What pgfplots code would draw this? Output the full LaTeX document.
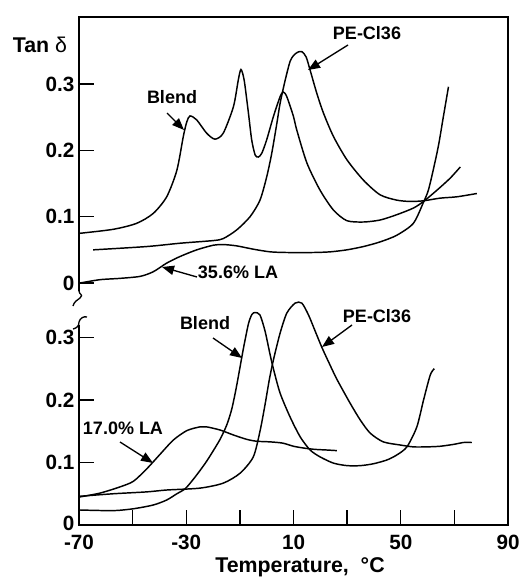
\documentclass[border=0pt]{standalone}
\usepackage{fontspec}
\setmainfont{Liberation Sans}
\usepackage{pgfplots}
\pgfplotsset{compat=1.18}
\usetikzlibrary{arrows.meta}

\pgfplotsset{panel/.style={
  scale only axis, width=321.75pt,
  xmin=-70, xmax=90,
  axis line style={draw=none},
  tick style={black, line width=1.1pt},
  major tick length=11pt,
  tick align=inside,
  ytick pos=left, xtick pos=bottom,
  ticklabel style={font=\fontsize{15.5}{17}\selectfont\bfseries},
  x tick label style={yshift=-4pt},
  clip=false,
},
curve/.style={black, line width=1.1pt, mark=none, smooth, tension=0.45}}

\begin{document}
\begin{tikzpicture}[
  px/.style={x=0.75pt, y=-0.75pt},
  lbl/.style={font=\fontsize{13.5}{15}\selectfont\bfseries, inner sep=0pt},
  arr/.style={line width=1pt, -{Triangle[length=9pt,width=7pt]}}]

\path[px] (0,0) rectangle (521,581);

% lower panel: 17.0% LA
\begin{axis}[panel,
  at={(59.25pt,-393.75pt)}, anchor=south west,
  height=173.4375pt, ymin=0, ymax=0.37,
  xtick={-70,-50,...,90}, xticklabels={-70,,-30,,10,,50,,90},
  ytick={0,0.1,0.2,0.3}, yticklabels={\raisebox{3pt}{0},0.1,0.2,0.3},
]
% Blend
\addplot[curve] coordinates {
 (-69.6,0.024) (-57.2,0.023) (-49.7,0.026) (-42.3,0.032) (-37.3,0.040)
 (-33.5,0.050) (-30.4,0.058) (-27.4,0.073) (-24.9,0.087) (-22.4,0.102)
 (-19.9,0.119) (-17.4,0.137) (-14.9,0.160) (-13.0,0.186) (-11.2,0.223)
 (-8.7,0.282) (-6.8,0.322) (-5.5,0.337) (-4.3,0.340) (-2.5,0.336)
 (-0.6,0.310) (1.3,0.272) (2.5,0.250) (5.0,0.211) (8.7,0.173)
 (12.5,0.141) (16.2,0.120) (19.9,0.109) (24.9,0.099) (30.0,0.095)
 (35.0,0.095) (39.8,0.098) (44.8,0.104) (48.5,0.112) (52.3,0.125)
 (56.0,0.157) (58.5,0.200) (61.0,0.240) (62.5,0.250)
};
% PE-Cl36
\addplot[curve] coordinates {
 (-69.6,0.046) (-57.2,0.050) (-44.7,0.053) (-37.3,0.056) (-24.9,0.059)
 (-16.2,0.067) (-9.9,0.083) (-5.0,0.109) (-2.5,0.150) (-0.6,0.193)
 (1.0,0.233) (2.5,0.264) (5.0,0.307) (7.5,0.339) (10.6,0.355)
 (13.1,0.355) (15.6,0.336) (18.1,0.310) (20.6,0.284) (23.4,0.258)
 (26.2,0.233) (31.1,0.195) (34.9,0.168) (38.6,0.147) (43.5,0.133)
 (49.8,0.128) (54.7,0.125) (59.7,0.125) (64.7,0.126) (69.7,0.129)
 (73.4,0.132) (76.5,0.132)
};
% 17.0% LA
\addplot[curve] coordinates {
 (-69.6,0.045) (-62.2,0.051) (-54.7,0.061) (-49.7,0.070) (-44.7,0.090)
 (-39.8,0.113) (-34.8,0.136) (-29.8,0.151) (-24.9,0.157) (-22.4,0.157)
 (-17.4,0.152) (-12.4,0.144) (-7.4,0.137) (-3.7,0.134) (1.3,0.133)
 (6.0,0.131) (10.0,0.126) (14.0,0.123) (18.0,0.121) (22.4,0.120)
 (26.2,0.119)
};
\end{axis}

% upper panel: 35.6% LA
\begin{axis}[panel,
  at={(59.25pt,-220.3125pt)}, anchor=south west,
  height=207.5625pt, ymin=-0.016214, ymax=0.401207,
  xtick=\empty,
  ytick={0,0.1,0.2,0.3}, yticklabels={0,0.1,0.2,0.3},
]
% Blend
\addplot[curve] coordinates {
 (-69.6,0.075) (-57.2,0.081) (-48.5,0.090) (-42.3,0.105) (-37.3,0.130)
 (-33.5,0.170) (-31.1,0.221) (-29.8,0.243) (-28.6,0.252) (-26.1,0.246)
 (-22.4,0.226) (-19.3,0.217) (-16.2,0.226) (-12.4,0.266) (-10.6,0.306)
 (-9.6,0.322) (-8.4,0.306) (-6.8,0.256) (-5.6,0.216) (-4.3,0.193)
 (-3.1,0.190) (-1.8,0.196) (0.0,0.216) (2.5,0.251) (5.0,0.281)
 (6.2,0.288) (7.5,0.281) (10.0,0.251) (11.2,0.231) (15.0,0.181)
 (19.9,0.140) (24.9,0.110) (29.9,0.094) (36.1,0.092) (42.3,0.095)
 (48.5,0.103) (54.7,0.113) (58.5,0.123) (63.5,0.140) (68.4,0.158)
 (72.2,0.175)
};
% PE-Cl36
\addplot[curve] coordinates {
 (-64.7,0.050) (-44.7,0.055) (-32.3,0.060) (-19.9,0.064) (-16.2,0.067)
 (-11.2,0.080) (-6.2,0.100) (-2.5,0.125) (0.0,0.160) (1.9,0.196)
 (3.8,0.241) (5.0,0.271) (6.9,0.306) (8.7,0.334) (10.0,0.343)
 (11.5,0.348) (13.1,0.349) (14.7,0.341) (16.2,0.321) (18.7,0.286)
 (21.2,0.256) (24.9,0.221) (29.9,0.186) (36.1,0.155) (42.3,0.133)
 (48.5,0.125) (53.5,0.123) (58.5,0.124) (64.7,0.128) (70.9,0.130)
 (78.4,0.135)
};
% 35.6% LA
\addplot[curve] coordinates {
 (-69.6,0.000) (-62.2,0.005) (-54.7,0.007) (-47.2,0.010) (-42.3,0.017)
 (-37.3,0.030) (-32.3,0.040) (-26.1,0.050) (-19.9,0.057) (-16.2,0.058)
 (-11.2,0.056) (-5.0,0.051) (1.3,0.047) (7.5,0.046) (17.4,0.046)
 (23.7,0.047) (29.9,0.050) (36.1,0.055) (42.3,0.062) (48.5,0.072)
 (54.7,0.090) (58.5,0.122) (60.3,0.140) (62.2,0.172) (64.1,0.208)
 (65.9,0.251) (67.8,0.296)
};
\end{axis}

\begin{scope}[px]
% frame with the broken left axis
\draw[line width=1.1pt] (79,291) -- (79,17) -- (508,17) -- (508,525) -- (79,525) -- (79,325);
\draw[line width=1pt] (79,291) .. controls (79,295) and (84,294) .. (80,298)
  .. controls (77,300) and (74,302) .. (73,306);
\draw[line width=1pt] (73,329) .. controls (77,328) and (79,326) .. (79,322)
  .. controls (80,318) and (84,316) .. (87,317);

\node[font=\fontsize{16}{18}\selectfont\bfseries, inner sep=0pt] at (40,45) {Tan {\mdseries δ}};
\node[font=\fontsize{16}{18}\selectfont\bfseries, inner sep=0pt] at (300,567) {Temperature,\ \ °C};

\node[lbl] at (172,97) {Blend};
\draw[arr] (167,113) -- (184,130);
\node[lbl] at (367,33) {PE-Cl36};
\draw[arr] (348,45) -- (308,70);
\node[lbl] at (238,272) {35.6\% LA};
\draw[arr] (197,277) -- (162,267);

\node[lbl] at (205,323) {Blend};
\draw[arr] (213,338) -- (242,358);
\node[lbl] at (123,428) {17.0\% LA};
\draw[arr] (120,442) -- (153,463);
\node[lbl] at (377,316) {PE-Cl36};
\draw[arr] (352,325) -- (322,347);
\end{scope}
\end{tikzpicture}
\end{document}
